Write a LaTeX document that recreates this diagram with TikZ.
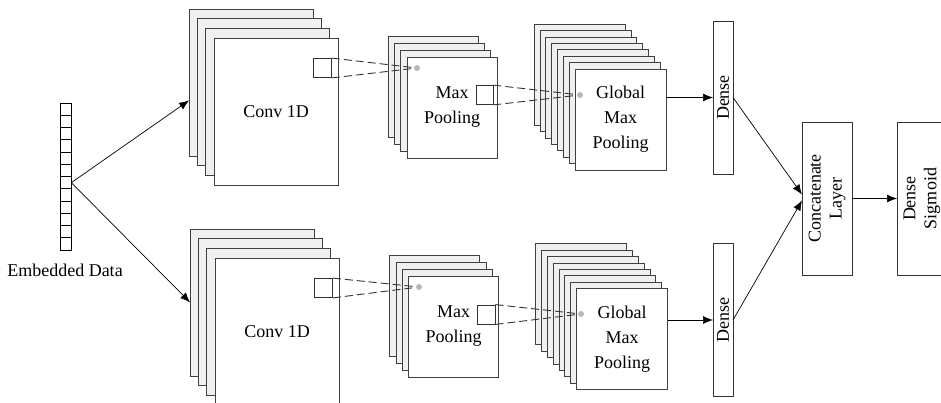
\documentclass[tikz,border=0pt]{standalone}
\usepackage{fontspec}
\setmainfont{Liberation Serif}
\usetikzlibrary{arrows.meta,positioning,calc}
\tikzset{sheet/.style={draw=black!75, fill=gray!12, line width=.8pt, inner sep=0pt, outer sep=0pt},
  front/.style={sheet, fill=white, font=\fontsize{18}{25}\selectfont, align=center},
  convsheet/.style={minimum width=124pt, minimum height=147pt},
  poolsheet/.style={minimum width=90pt, minimum height=101pt},
  gmpsheet/.style={minimum width=91pt, minimum height=101pt},
  win/.style={draw=black!80, fill=white, line width=.8pt, inner sep=0pt, minimum width=18pt, minimum height=19pt},
  spot/.style={circle, fill=gray!55, inner sep=0pt, minimum size=6pt},
  cell/.style={draw, line width=.7pt, minimum width=11pt, minimum height=12.25pt, inner sep=0pt},
  vbox/.style={draw=black!80, line width=.8pt, inner sep=0pt, outer sep=0pt, minimum height=153pt},
  vlbl/.style={rotate=90, font=\fontsize{18}{21}\selectfont, align=center},
  lbl/.style={font=\fontsize{18}{21}\selectfont},
  flow/.style={-{Latex[length=10pt,width=8pt]}, line width=.7pt},
  tap/.style={dashed, dash pattern=on 8pt off 4pt, line width=.9pt, draw=black!80, shorten >=3pt}}
\begin{document}
\begin{tikzpicture}[x=1pt,y=-1pt]
  \useasboundingbox (0,0) rectangle (941,402);
  % input vector
  \foreach \i in {1,...,12}
    \node[cell] (cell\i) at (65.5,{103+(\i-0.5)*12.25}) {};
  \node[lbl] (embtxt) at (65,270) {Embedded Data};
  % upper branch
  \foreach \i in {3,2,1}
    \node[sheet, convsheet] (conv1s\i) at ($(276,111.5)-\i*(8.3,9.7)$) {};
  \node[front, convsheet] (conv1) at (276,111.5) {Conv 1D};
  \node[win] (win1) at (322.5,68) {};
  \foreach \i in {3,2,1}
    \node[sheet, poolsheet] (pool1s\i) at ($(452,107.5)-\i*(6.3,7)$) {};
  \node[front, poolsheet] (pool1) at (452,107.5) {Max\\Pooling};
  \node[spot] (dot1) at (417,68) {};
  \node[win, minimum width=17pt] (pwin1) at (484.5,95) {};
  \foreach \i in {7,6,...,1}
    \node[sheet, gmpsheet] (gmp1s\i) at ($(620.5,119.5)-\i*(5.85,6.4)$) {};
  \node[front, gmpsheet] (gmp1) at (620.5,119.5) {Global\\Max\\Pooling};
  \node[spot] (pdot1) at (580,95) {};
  \node[vbox, minimum width=20pt] (dense1) at (723,97.5) {};
  \node[vlbl] (dense1t) at (dense1) {Dense};
  % lower branch
  \foreach \i in {3,2,1}
    \node[sheet, convsheet] (conv2s\i) at ($(277,331.5)-\i*(8.3,9.7)$) {};
  \node[front, convsheet] (conv2) at (277,331.5) {Conv 1D};
  \node[win] (win2) at (323.5,288) {};
  \foreach \i in {3,2,1}
    \node[sheet, poolsheet] (pool2s\i) at ($(453.5,326.5)-\i*(6.3,7)$) {};
  \node[front, poolsheet] (pool2) at (453.5,326.5) {Max\\Pooling};
  \node[spot] (dot2) at (419,287) {};
  \node[win] (pwin2) at (486,314.5) {};
  \foreach \i in {7,6,...,1}
    \node[sheet, gmpsheet] (gmp2s\i) at ($(622,339)-\i*(5.85,6.4)$) {};
  \node[front, gmpsheet] (gmp2) at (622,339) {Global\\Max\\Pooling};
  \node[spot] (pdot2) at (581,314) {};
  \node[vbox, minimum width=20pt] (dense2) at (723,320) {};
  \node[vlbl] (dense2t) at (dense2) {Dense};
  % merge
  \node[vbox, minimum width=50pt] (concat) at (827,198.5) {};
  \node[vlbl] (concatt) at (concat) {Concatenate\\Layer};
  \node[vbox, minimum width=50pt] (sig) at (922,198.5) {};
  \node[vlbl] (sigt) at (sig) {Dense\\Sigmoid};
  % connectors
  \draw[flow] (cell7.east) -- ($(conv1s3.west)+(0,18)$);
  \draw[flow] (cell7.east) -- (conv2s3.west);
  \draw[tap] (win1.north east) -- (dot1) (win1.south east) -- (dot1);
  \draw[tap] (pwin1.north east) -- (pdot1) (pwin1.south east) -- (pdot1);
  \draw[tap] (win2.north east) -- (dot2) (win2.south east) -- (dot2);
  \draw[tap] (pwin2.north east) -- (pdot2) (pwin2.south east) -- (pdot2);
  \draw[flow] (gmp1.east |- dense1.west) -- (dense1.west);
  \draw[flow] (gmp2.east |- dense2.west) -- (dense2.west);
  \draw[flow] (dense1.east) -- ([yshift=4pt]concat.west);
  \draw[flow] (dense2.east) -- ([yshift=-2pt]concat.west);
  \draw[flow] (concat.east) -- (sig.west);
\end{tikzpicture}
\end{document}
